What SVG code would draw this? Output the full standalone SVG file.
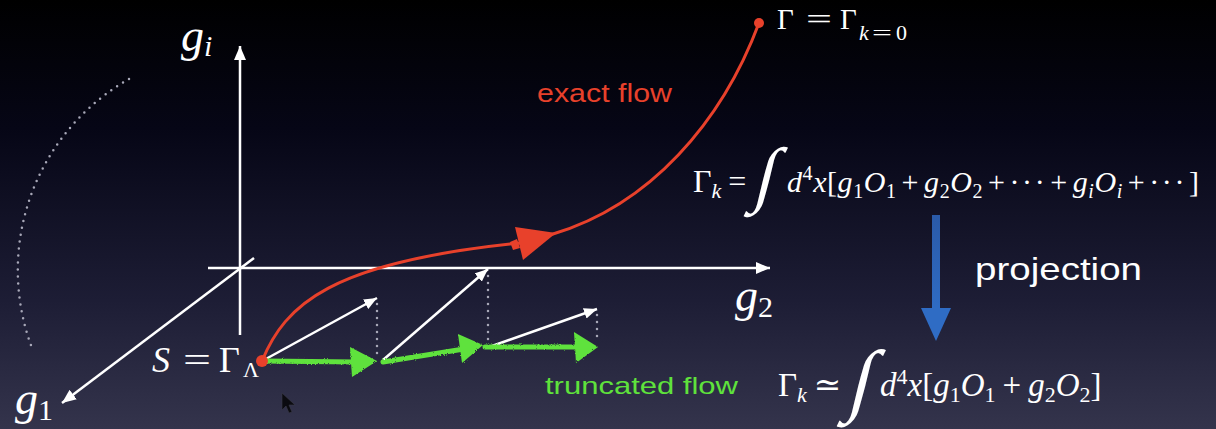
<svg xmlns="http://www.w3.org/2000/svg" width="1216" height="429" viewBox="0 0 1216 429">
  <defs>
    <linearGradient id="bg" x1="0" y1="0" x2="0" y2="1">
      <stop offset="0" stop-color="#000000"/>
      <stop offset="0.3" stop-color="#060616"/>
      <stop offset="0.7" stop-color="#1d1d35"/>
      <stop offset="1" stop-color="#34344c"/>
    </linearGradient>
    <linearGradient id="blue" x1="0" y1="0" x2="0" y2="1">
      <stop offset="0" stop-color="#2a5aa8"/>
      <stop offset="1" stop-color="#2f6cc4"/>
    </linearGradient>
    <marker id="wa" viewBox="0 0 14 12" refX="14" refY="6" markerWidth="14" markerHeight="12" markerUnits="userSpaceOnUse" orient="auto">
      <path d="M0,0 L14,6 L0,12 z" fill="#ffffff"/>
    </marker>
    <marker id="wv" viewBox="0 0 13 11" refX="13" refY="5.5" markerWidth="13" markerHeight="11" markerUnits="userSpaceOnUse" orient="auto">
      <path d="M0,0 L13,5.5 L0,11 z" fill="#ffffff"/>
    </marker>
    <filter id="chalk" x="-10%" y="-30%" width="120%" height="160%">
      <feTurbulence type="fractalNoise" baseFrequency="0.9" numOctaves="2" seed="3"/>
      <feDisplacementMap in="SourceGraphic" scale="2.5"/>
    </filter>
    <style>
      .axis { stroke:#ffffff; stroke-width:2.5; fill:none; }
      .vec { stroke:#ffffff; stroke-width:2.5; fill:none; }
      .dots { stroke:#a8a8b8; stroke-width:2.5; stroke-dasharray:0 7; stroke-linecap:round; fill:none; }
      .green { stroke:#5fe23c; stroke-width:5; fill:none; stroke-linecap:round; }
      .ghead { fill:#5fe23c; }
      .red { stroke:#e8412b; stroke-width:3; fill:none; }
      .redf { fill:#e8412b; }
      .m { font-family:"Liberation Serif","DejaVu Serif",serif; fill:#ffffff; }
      .i { font-style:italic; }
      .s { font-family:"Liberation Sans","Noto Sans",sans-serif; }
    </style>
  </defs>
  <rect width="1216" height="429" fill="url(#bg)"/>

  <g id="arc-hint">
    <path class="dots" d="M129,79 A220,220 0 0 0 32,348"/>
  </g>

  <g id="axes">
    <line class="axis" x1="240" y1="335" x2="240" y2="46" marker-end="url(#wa)"/>
    <line class="axis" x1="208" y1="268" x2="770" y2="268" marker-end="url(#wa)"/>
    <line class="axis" x1="254" y1="258" x2="62" y2="403" marker-end="url(#wa)"/>
  </g>

  <g id="axis-labels">
    <text class="m i" x="181" y="51" font-size="46">g<tspan font-size="30" dy="5">i</tspan></text>
    <text class="m i" x="735" y="311" font-size="46">g<tspan font-style="normal" font-size="30" dy="6">2</tspan></text>
    <text class="m i" x="15" y="414" font-size="46">g<tspan font-style="normal" font-size="30" dy="6">1</tspan></text>
  </g>

  <g id="projection-guides">
    <line class="dots" x1="377" y1="304" x2="377" y2="357"/>
    <line class="dots" x1="488" y1="276" x2="488" y2="340"/>
    <line class="dots" x1="597" y1="315" x2="597" y2="338"/>
  </g>

  <g id="full-vectors">
    <line class="vec" x1="264" y1="360" x2="377" y2="298" marker-end="url(#wv)"/>
    <line class="vec" x1="383" y1="360" x2="488" y2="269" marker-end="url(#wv)"/>
    <line class="vec" x1="492" y1="346" x2="597" y2="309" marker-end="url(#wv)"/>
  </g>

  <g id="truncated-flow" filter="url(#chalk)">
    <line class="green" x1="264" y1="361" x2="356" y2="362"/>
    <polygon class="ghead" points="350,347 377,361 352,377"/>
    <line class="green" x1="383" y1="362" x2="464" y2="349"/>
    <polygon class="ghead" points="458,334 483,345 462,363"/>
    <line class="green" x1="485" y1="347" x2="578" y2="347"/>
    <polygon class="ghead" points="574,332 598,347 576,363"/>
  </g>

  <g id="exact-flow">
    <path class="red" d="M262,361 C285,305 330,262 520,243 L553,234 C650,205 722,122 759,23"/>
    <polygon class="redf" points="515,227 556,233 523,260"/>
    <polygon class="redf" points="517,239 520,248 513,250 510,242"/>
    <circle class="redf" cx="759" cy="23" r="5"/>
    <circle class="redf" cx="262" cy="361" r="6"/>
  </g>

  <g id="label-exact">
    <text class="s" x="537" y="102" font-size="25" fill="#e8412b" textLength="135" lengthAdjust="spacingAndGlyphs">exact flow</text>
  </g>
  <g id="label-truncated">
    <text class="s" x="545" y="394" font-size="24" fill="#5fe23c" textLength="193" lengthAdjust="spacingAndGlyphs">truncated flow</text>
  </g>
  <g id="label-projection">
    <text class="s" x="975" y="280" font-size="32" fill="#ffffff" textLength="167" lengthAdjust="spacingAndGlyphs">projection</text>
  </g>

  <g id="projection-arrow">
    <rect x="932" y="215" width="8" height="95" fill="url(#blue)"/>
    <polygon points="921,308 951,308 936,341" fill="#2f6cc4"/>
  </g>

  <g id="label-gamma0">
    <text class="m" x="777" y="29" font-size="29">Γ</text>
    <text class="m" x="806" y="29" font-size="29" textLength="26" lengthAdjust="spacingAndGlyphs">=</text>
    <text class="m" x="840" y="29" font-size="29">Γ</text>
    <text class="m i" x="859" y="40" font-size="22">k</text>
    <text class="m" x="872" y="40" font-size="22" textLength="20" lengthAdjust="spacingAndGlyphs">=</text>
    <text class="m" x="896" y="40" font-size="22">0</text>
  </g>

  <g id="label-S">
    <text class="m i" x="152" y="372" font-size="36">S</text>
    <text class="m" x="183" y="372" font-size="36" textLength="28" lengthAdjust="spacingAndGlyphs">=</text>
    <text class="m" x="219" y="372" font-size="36">Γ</text>
    <text class="m" x="243" y="377" font-size="22">Λ</text>
  </g>

  <g id="formula-full">
    <text class="m" x="693" y="192" font-size="32">Γ<tspan class="i" font-size="22" dy="6">k</tspan><tspan dy="-6" dx="7">=</tspan></text>
    <text class="m" transform="translate(752,198) skewX(-14)" x="0" y="0" font-size="72">∫</text>
    <text class="m" x="787" y="192" font-size="30" textLength="412" lengthAdjust="spacing"><tspan class="i">d</tspan><tspan font-size="20" dy="-12">4</tspan><tspan class="i" dy="12">x</tspan>[<tspan class="i">g</tspan><tspan font-size="20" dy="6">1</tspan><tspan class="i" dy="-6">O</tspan><tspan font-size="20" dy="6">1</tspan><tspan dy="-6" dx="5">+</tspan><tspan class="i" dx="5">g</tspan><tspan font-size="20" dy="6">2</tspan><tspan class="i" dy="-6">O</tspan><tspan font-size="20" dy="6">2</tspan><tspan dy="-6" dx="5">+</tspan><tspan dx="4" letter-spacing="2">···</tspan><tspan dx="3">+</tspan><tspan class="i" dx="5">g</tspan><tspan class="i" font-size="20" dy="6">i</tspan><tspan class="i" dy="-6">O</tspan><tspan class="i" font-size="20" dy="6">i</tspan><tspan dy="-6" dx="5">+</tspan><tspan dx="4" letter-spacing="2">···</tspan><tspan dx="2">]</tspan></text>
  </g>

  <g id="formula-truncated">
    <text class="m" x="778" y="396" font-size="33">Γ<tspan class="i" font-size="22" dy="6">k</tspan><tspan dy="-6" dx="7">≃</tspan></text>
    <text class="m" transform="translate(846,406) skewX(-14)" x="0" y="0" font-size="80">∫</text>
    <text class="m" x="880" y="396" font-size="33"><tspan class="i">d</tspan><tspan font-size="22" dy="-12">4</tspan><tspan class="i" dy="12">x</tspan>[<tspan class="i">g</tspan><tspan font-size="22" dy="6">1</tspan><tspan class="i" dy="-6">O</tspan><tspan font-size="22" dy="6">1</tspan><tspan dy="-6" dx="7">+</tspan><tspan class="i" dx="7">g</tspan><tspan font-size="22" dy="6">2</tspan><tspan class="i" dy="-6">O</tspan><tspan font-size="22" dy="6">2</tspan><tspan dy="-6">]</tspan></text>
  </g>

  <g id="cursor">
    <polygon points="282,393 282,410 286,406 289,413 292,412 289,405 295,405" fill="#0b0b10" stroke="#3a3a48" stroke-width="0.6"/>
  </g>
</svg>
